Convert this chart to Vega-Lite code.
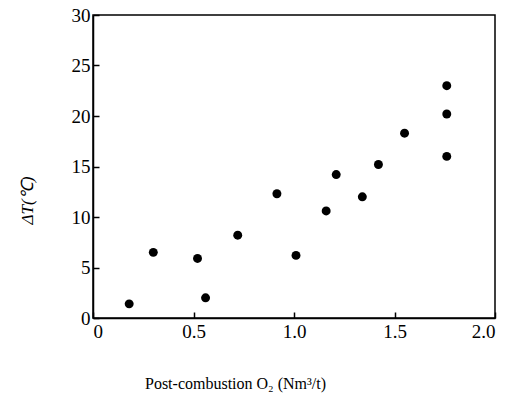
{
  "$schema": "https://vega.github.io/schema/vega-lite/v6.json",
  "width": 402,
  "height": 303,
  "autosize": {"type": "none"},
  "padding": {"left": 93, "top": 15, "right": 28, "bottom": 87},
  "background": "white",
  "config": {
    "view": {"stroke": "black", "strokeWidth": 1.5},
    "axis": {
      "grid": false,
      "domainColor": "black",
      "domainWidth": 1.5,
      "tickColor": "black",
      "tickWidth": 1.5,
      "labelFont": "Liberation Serif",
      "labelFontSize": 19,
      "labelColor": "black",
      "titleFont": "Liberation Serif",
      "titleColor": "black",
      "titleFontWeight": "normal"
    }
  },
  "data": {
    "values": [
      {"o2": 0.18, "dt": 1.4},
      {"o2": 0.30, "dt": 6.5},
      {"o2": 0.52, "dt": 5.9},
      {"o2": 0.56, "dt": 2.0},
      {"o2": 0.72, "dt": 8.2},
      {"o2": 0.915, "dt": 12.3},
      {"o2": 1.01, "dt": 6.2},
      {"o2": 1.16, "dt": 10.6},
      {"o2": 1.21, "dt": 14.2},
      {"o2": 1.34, "dt": 12.0},
      {"o2": 1.42, "dt": 15.2},
      {"o2": 1.55, "dt": 18.3},
      {"o2": 1.76, "dt": 16.0},
      {"o2": 1.76, "dt": 20.2},
      {"o2": 1.76, "dt": 23.0}
    ]
  },
  "mark": {"type": "point", "filled": true, "color": "black", "opacity": 1, "size": 80},
  "encoding": {
    "x": {
      "field": "o2",
      "type": "quantitative",
      "scale": {"domain": [0, 2], "nice": false},
      "axis": {
        "values": [0, 0.5, 1, 1.5, 2],
        "labelExpr": "datum.value == 0 ? '0' : format(datum.value, '.1f')",
        "tickSize": -6,
        "labelPadding": 10,
        "title": "Post-combustion O₂ (Nm³/t)",
        "titleFontSize": 16,
        "titleX": 142,
        "titleY": 65,
        "titleAnchor": null,
        "titleAlign": "center",
        "titleBaseline": "middle"
      }
    },
    "y": {
      "field": "dt",
      "type": "quantitative",
      "scale": {"domain": [0, 30], "nice": false},
      "axis": {
        "values": [0, 5, 10, 15, 20, 25, 30],
        "tickSize": -6,
        "labelPadding": 9,
        "title": "ΔT(℃)",
        "titleFontSize": 17,
        "titleFontStyle": "italic",
        "titleX": -66,
        "titleY": 185,
        "titleAngle": -90,
        "titleAlign": "center",
        "titleBaseline": "middle"
      }
    }
  }
}
